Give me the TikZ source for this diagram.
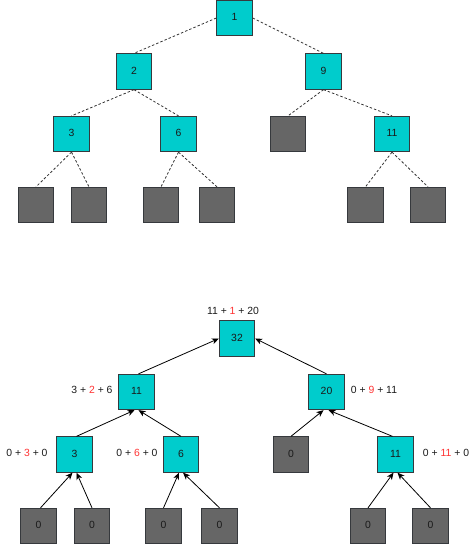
\documentclass[tikz,border=0pt]{standalone}
\usepackage{fontspec}
\setmainfont{Liberation Sans}
\usetikzlibrary{arrows.meta}
\definecolor{cyanfill}{HTML}{00CCCC}
\definecolor{grayfill}{HTML}{666666}
\definecolor{boxline}{HTML}{36393D}
\definecolor{dashline}{HTML}{333333}
\definecolor{redtxt}{HTML}{FF3333}
\definecolor{txt}{HTML}{1A1A1A}
\tikzset{
  box/.style={draw=boxline, line width=0.8bp, minimum size=35.5bp, inner sep=0pt,
    font=\fontsize{10.4bp}{12bp}\selectfont, text=txt, text depth=0pt},
  cbox/.style={box, fill=cyanfill},
  gbox/.style={box, fill=grayfill},
  lbl/.style={font=\fontsize{10.4bp}{12bp}\selectfont, text=txt, inner sep=0pt},
  dashedge/.style={draw=dashline, line width=0.8bp, dash pattern=on 2.5bp off 2bp},
  arr/.style={draw=black, line width=0.8bp, -{Stealth[length=7bp,width=6bp,inset=2bp]}}
}
\newcommand{\rn}[1]{\textcolor{redtxt}{#1}}
\begin{document}
\begin{tikzpicture}[x=1bp,y=-1bp]
\useasboundingbox (0,0) rectangle (474,545);
% ---------- top tree ----------
\node[cbox] (r1) at (234.5,18) {\raisebox{2bp}{1}};
\node[cbox] (a2) at (134,71.5) {\raisebox{2bp}{2}};
\node[cbox] (a9) at (323.5,71.5) {\raisebox{2bp}{9}};
\node[cbox] (a3) at (71.5,134) {\raisebox{2bp}{3}};
\node[cbox] (a6) at (178.5,134) {\raisebox{2bp}{6}};
\node[gbox] (ag) at (288,134) {};
\node[cbox] (a11) at (392,134) {\raisebox{2bp}{11}};
\node[gbox] (l1) at (36,205) {};
\node[gbox] (l2) at (89,205) {};
\node[gbox] (l3) at (161,205) {};
\node[gbox] (l4) at (217,205) {};
\node[gbox] (l5) at (365.5,205) {};
\node[gbox] (l6) at (428,205) {};
\draw[dashedge] (r1.west) -- (a2.north);
\draw[dashedge] (r1.east) -- (a9.north);
\draw[dashedge] (a2.south) -- (a3.north);
\draw[dashedge] (a2.south) -- (a6.north);
\draw[dashedge] (a9.south) -- (ag.north);
\draw[dashedge] (a9.south) -- (a11.north);
\draw[dashedge] (a3.south) -- (l1.north);
\draw[dashedge] (a3.south) -- (l2.north);
\draw[dashedge] (a6.south) -- (l3.north);
\draw[dashedge] (a6.south) -- (l4.north);
\draw[dashedge] (a11.south) -- (l5.north);
\draw[dashedge] (a11.south) -- (l6.north);
% ---------- bottom tree ----------
\node[cbox] (b32) at (237,338.5) {\raisebox{2bp}{32}};
\node[cbox] (b11) at (136.5,392) {\raisebox{2bp}{11}};
\node[cbox] (b20) at (326.5,392) {\raisebox{2bp}{20}};
\node[cbox] (b3) at (74.5,454.5) {\raisebox{2bp}{3}};
\node[cbox] (b6) at (181,454.5) {\raisebox{2bp}{6}};
\node[gbox] (bg) at (291,454.5) {\raisebox{2bp}{0}};
\node[cbox] (bq) at (395.5,454.5) {\raisebox{2bp}{11}};
\node[gbox] (k1) at (38.5,526) {\raisebox{2bp}{0}};
\node[gbox] (k2) at (92,526) {\raisebox{2bp}{0}};
\node[gbox] (k3) at (163.5,526) {\raisebox{2bp}{0}};
\node[gbox] (k4) at (219.5,526) {\raisebox{2bp}{0}};
\node[gbox] (k5) at (368,526) {\raisebox{2bp}{0}};
\node[gbox] (k6) at (430.5,526) {\raisebox{2bp}{0}};
\node[lbl] (t32) at (233,310.5) {11 + \rn{1} + 20};
\node[lbl] (t11) at (92,390) {3 + \rn{2} + 6};
\node[lbl] (t20) at (374,390) {0 + \rn{9} + 11};
\node[lbl] (t3) at (27,453) {0 + \rn{3} + 0};
\node[lbl] (t6) at (137,453) {0 + \rn{6} + 0};
\node[lbl] (tq) at (446,453) {0 + \rn{11} + 0};
\draw[arr] ([xshift=2bp]b11.north) -- (b32.west);
\draw[arr] (b20.north) -- (b32.east);
\draw[arr] ([xshift=2bp]b3.north) -- ([xshift=-2bp]b11.south);
\draw[arr] (b6.north) -- ([xshift=2bp]b11.south);
\draw[arr] (bg.north) -- ([xshift=-3bp]b20.south);
\draw[arr] ([xshift=-3bp]bq.north) -- ([xshift=2bp]b20.south);
\draw[arr] ([xshift=2bp]k1.north) -- ([xshift=-2bp]b3.south);
\draw[arr] (k2.north) -- ([xshift=2bp]b3.south);
\draw[arr] (k3.north) -- ([xshift=-2bp]b6.south);
\draw[arr] (k4.north) -- ([xshift=2bp]b6.south);
\draw[arr] (k5.north) -- ([xshift=-2bp]bq.south);
\draw[arr] (k6.north) -- ([xshift=2bp]bq.south);
\end{tikzpicture}
\end{document}
